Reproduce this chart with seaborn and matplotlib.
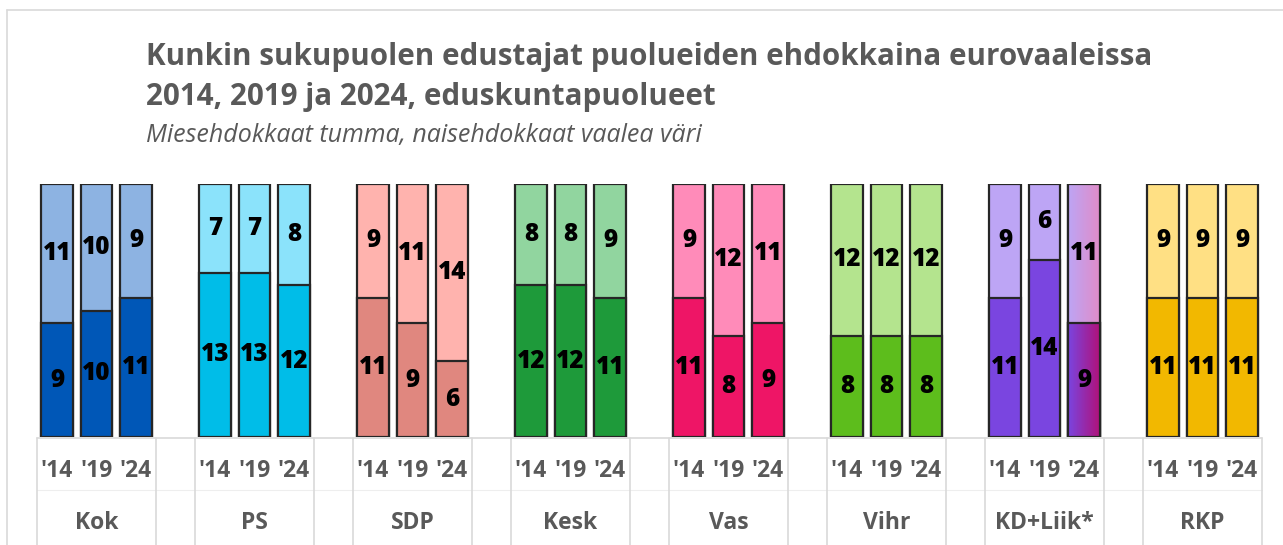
import matplotlib

matplotlib.use("Agg")
import matplotlib.pyplot as plt
import numpy as np
import pandas as pd
import seaborn as sns
from matplotlib.patches import Rectangle

# data
parties = ["Kok", "PS", "SDP", "Kesk", "Vas", "Vihr", "KD+Liik*", "RKP"]
years = ["'14", "'19", "'24"]
men = [
    [9, 10, 11],
    [13, 13, 12],
    [11, 9, 6],
    [12, 12, 11],
    [11, 8, 9],
    [8, 8, 8],
    [11, 14, 9],
    [11, 11, 11],
]
women = [
    [11, 10, 9],
    [7, 7, 8],
    [9, 11, 14],
    [8, 8, 9],
    [9, 12, 11],
    [12, 12, 12],
    [9, 6, 11],
    [9, 9, 9],
]
dark_colors = ["#0057B7", "#00BDE8", "#E0877F", "#1E9A3A", "#EE1566", "#5DBD1C", "#7A45E0", "#F2B800"]
light_colors = ["#8DB3E2", "#8BE3FB", "#FFB3AE", "#91D59F", "#FF8BB9", "#B4E48E", "#BDA5F5", "#FFE084"]

TEXT = "#595959"
EDGE = "#262626"
GRID = "#D9D9D9"

rows = []
for g, party in enumerate(parties):
    for j, year in enumerate(years):
        rows.append(
            {
                "party": party,
                "year": year,
                "pos": g * 4 + j,
                "men": men[g][j],
                "women": women[g][j],
            }
        )
df = pd.DataFrame(rows)
df["total"] = df["men"] + df["women"]

sns.set_theme(style="white")
plt.rcParams["font.family"] = ["Open Sans", "DejaVu Sans"]

W, H = 1283, 545
fig = plt.figure(figsize=(W / 100, H / 100), dpi=100)
x0, x1, y_top, y_bot = 37.25, 1261.75, 184, 437
ax = fig.add_axes([x0 / W, 1 - y_bot / H, (x1 - x0) / W, (y_bot - y_top) / H])

bar_kw = dict(native_scale=True, width=0.81, dodge=False, legend=False, errorbar=None,
              saturation=1, edgecolor=EDGE, linewidth=1.6, ax=ax)
sns.barplot(data=df, x="pos", y="total", hue="party", hue_order=parties,
            palette=dict(zip(parties, light_colors)), **bar_kw)
sns.barplot(data=df, x="pos", y="men", hue="party", hue_order=parties,
            palette=dict(zip(parties, dark_colors)), **bar_kw)

ax.set_xlim(-0.5, 30.5)
ax.set_ylim(0, 20)
ax.axis("off")

# gradient on KD+Liik* '24 bar
kd_pos = 6 * 4 + 2
grad_pairs = [("#BDA5F5", "#E08CC8"), ("#7A45E0", "#B0127A")]
kd_patches = sorted(
    [p for p in ax.patches if abs(p.get_x() + p.get_width() / 2 - kd_pos) < 0.1],
    key=lambda p: p.get_height(), reverse=True,
)
for k, (patch, (c_left, c_right)) in enumerate(zip(kd_patches, grad_pairs)):
    cmap = matplotlib.colors.LinearSegmentedColormap.from_list("g", [c_left, c_right])
    bx, bw, bh = patch.get_x(), patch.get_width(), patch.get_height()
    z = patch.get_zorder() + 0.1 + 0.3 * k
    im = ax.imshow(np.linspace(0, 1, 64).reshape(1, -1), cmap=cmap, aspect="auto",
                   extent=(bx, bx + bw, 0, bh), zorder=z)
    im.set_clip_path(patch)
    ax.add_patch(Rectangle((bx, 0), bw, bh, facecolor="none", edgecolor=EDGE,
                           linewidth=1.6, zorder=z + 0.1))
ax.set_xlim(-0.5, 30.5)
ax.set_ylim(0, 20)

# value labels
for _, r in df.iterrows():
    ax.text(r["pos"], r["men"] / 2, str(r["men"]), ha="center", va="center",
            fontsize=17.5, fontweight=800, color="black", zorder=10)
    ax.text(r["pos"], r["men"] + r["women"] / 2, str(r["women"]), ha="center", va="center",
            fontsize=17.5, fontweight=800, color="black", zorder=10)

# multi-level category axis drawn below the plot
trans = ax.get_xaxis_transform()


def py(pix):
    return (y_bot - pix) / (y_bot - y_top)


ax.plot([-0.5, 30.5], [py(438), py(438)], color=GRID, lw=1.2, transform=trans, clip_on=False)
ax.plot([-0.5, 30.5], [py(490), py(490)], color="#EEEEEE", lw=0.8, transform=trans, clip_on=False)
for g in range(len(parties)):
    for xb in (g * 4 - 0.5, g * 4 + 2.5):
        ax.plot([xb, xb], [py(438), py(560)], color=GRID, lw=1.2, transform=trans, clip_on=False)
    for j, year in enumerate(years):
        ax.text(g * 4 + j, py(471), year, ha="center", va="center", fontsize=16.5,
                fontweight="bold", color=TEXT, transform=trans)
    ax.text(g * 4 + 1, py(523), parties[g], ha="center", va="center", fontsize=16.5,
            fontweight="bold", color=TEXT, transform=trans)

# outer frame
fig.add_artist(plt.Line2D([7 / W, 7 / W], [1 - 10 / H, 0], color=GRID, lw=1.2))
fig.add_artist(plt.Line2D([7 / W, 1], [1 - 10 / H, 1 - 10 / H], color=GRID, lw=1.2))

fig.text(146 / W, 1 - 65 / H, "Kunkin sukupuolen edustajat puolueiden ehdokkaina eurovaaleissa",
         fontsize=21.3, fontweight="bold", color=TEXT, va="baseline")
fig.text(146 / W, 1 - 105 / H, "2014, 2019 ja 2024, eduskuntapuolueet",
         fontsize=21.3, fontweight="bold", color=TEXT, va="baseline")
fig.text(146 / W, 1 - 142 / H, "Miesehdokkaat tumma, naisehdokkaat vaalea väri",
         fontsize=18, fontstyle="italic", color=TEXT, va="baseline")

fig.savefig("out.png", dpi=100)
